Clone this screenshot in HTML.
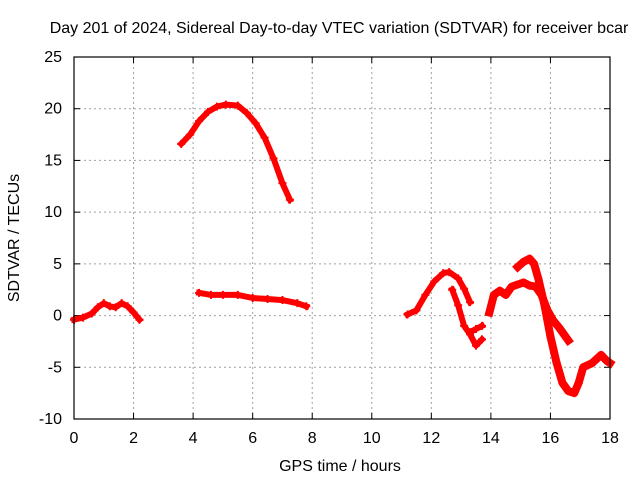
<!DOCTYPE html>
<html><head><meta charset="utf-8"><style>
body{margin:0;background:#fff;}
svg{display:block;font-family:"Liberation Sans",sans-serif;}
</style></head><body>
<svg id="chart" width="640" height="480" viewBox="0 0 640 480">
<text x="339" y="33" font-size="16" text-anchor="middle">Day 201 of 2024, Sidereal Day-to-day VTEC variation (SDTVAR) for receiver bcar</text>
<text x="340" y="471" font-size="16" text-anchor="middle">GPS time / hours</text>
<text transform="translate(19,238) rotate(-90)" font-size="16" text-anchor="middle">SDTVAR / TECUs</text>
<g id="grid"></g>
<g id="ticks"></g>
<g id="series"></g>
<rect x="74" y="57" width="536" height="362" fill="none" stroke="#000" stroke-width="1.2"/>
</svg>
<script>
const xTicks=[0,2,4,6,8,10,12,14,16,18];
const yTicks=[-10,-5,0,5,10,15,20,25];
const seg1=[[0,-0.4],[0.3,-0.2],[0.6,0.2],[0.8,0.8],[1.0,1.2],[1.2,0.9],[1.4,0.8],[1.6,1.2],[1.8,0.9],[2.0,0.3],[2.2,-0.4]];
const seg2=[[3.6,16.6],[3.9,17.5],[4.2,18.8],[4.5,19.7],[4.8,20.2],[5.1,20.4],[5.5,20.3],[5.8,19.6],[6.1,18.6],[6.4,17.2],[6.7,15.2],[7.0,12.8],[7.25,11.2]];
const seg3=[[4.2,2.2],[4.6,2.0],[5.0,2.0],[5.5,2.0],[6.0,1.7],[6.5,1.6],[7.0,1.5],[7.5,1.2],[7.8,0.9]];
const seg4=[[11.2,0.1],[11.5,0.5],[11.8,2.0],[12.1,3.3],[12.4,4.1],[12.6,4.2],[12.9,3.6],[13.1,2.6],[13.3,1.3]];
const seg5=[[12.7,2.5],[12.9,1.0],[13.1,-1.0],[13.3,-1.8],[13.5,-2.9],[13.7,-2.3]];
const seg5b=[[13.3,-1.6],[13.5,-1.3],[13.7,-1.0]];
const seg6=[[13.95,0.3],[14.1,2.0],[14.3,2.4],[14.5,2.0],[14.7,2.8],[14.9,3.0],[15.1,3.2],[15.3,2.9],[15.5,2.8],[15.7,2.0],[15.9,0.5],[16.1,-0.5],[16.3,-1.2],[16.6,-2.4]];
const seg7=[[14.9,4.7],[15.1,5.2],[15.3,5.5],[15.45,5.0],[15.6,3.5],[15.8,1.0],[16.0,-2.0],[16.2,-4.5],[16.4,-6.5],[16.6,-7.3],[16.8,-7.5],[16.95,-6.5],[17.1,-5.0],[17.4,-4.6],[17.7,-3.8],[17.9,-4.4],[18.0,-4.6]];
const segments=[seg1,seg2,seg3,seg4,seg5,seg5b,seg6,seg7];

const X0=74,X1=610,Y0=419,Y1=57;
const xs=h=>X0+(h-0)/(18-0)*(X1-X0);
const ys=v=>Y0-(v+10)/(25+10)*(Y0-Y1);
const NS='http://www.w3.org/2000/svg';
const grid=document.getElementById('grid'),ticks=document.getElementById('ticks'),ser=document.getElementById('series');
function mk(tag,attrs,parent){const e=document.createElementNS(NS,tag);for(const k in attrs)e.setAttribute(k,attrs[k]);parent.appendChild(e);return e;}
xTicks.forEach(t=>{
  const x=xs(t);
  if(t>0&&t<18){const l=mk('line',{x1:x,x2:x,y1:Y1,y2:Y0,stroke:'#a0a0a0','stroke-dasharray':'2,3'},grid);
  
  }
  const a=mk('line',{x1:x,x2:x,y1:Y0,y2:Y0-6,stroke:'#000'},ticks);
  
  
  const b=mk('line',{x1:x,x2:x,y1:Y1,y2:Y1+6,stroke:'#000'},ticks);
  
  
  const tx=mk('text',{x:x,y:443,'font-size':'16','text-anchor':'middle'},ticks);tx.textContent=t;
  
  
});
yTicks.forEach(t=>{
  const y=ys(t);
  if(t>-10&&t<25){const l=mk('line',{x1:X0,x2:X1,y1:y,y2:y,stroke:'#a0a0a0','stroke-dasharray':'2,3'},grid);
  
  }
  const a=mk('line',{x1:X0,x2:X0+6,y1:y,y2:y,stroke:'#000'},ticks);
  
  
  const b=mk('line',{x1:X1,x2:X1-6,y1:y,y2:y,stroke:'#000'},ticks);
  
  
  const tx=mk('text',{x:62,y:y+5,'font-size':'16','text-anchor':'end'},ticks);tx.textContent=t;
  
  
});
segments.forEach((s,i)=>{
  const pts=s.map(p=>xs(p[0]).toFixed(1)+','+ys(p[1]).toFixed(1)).join(' ');
  const w=(i>=6)?8:6;
  const pl=mk('polyline',{points:pts,fill:'none',stroke:'#ff0000','stroke-width':w,'stroke-linejoin':'round','stroke-linecap':'square'},ser);
  
  
  s.forEach(p=>{
    const x=xs(p[0]),y=ys(p[1]);
    const m=mk('path',{d:`M${x-4},${y}H${x+4}M${x},${y-4}V${y+4}`,stroke:'#ff0000','stroke-width':2},ser);
    
    
  });
});
</script>
</body></html>
